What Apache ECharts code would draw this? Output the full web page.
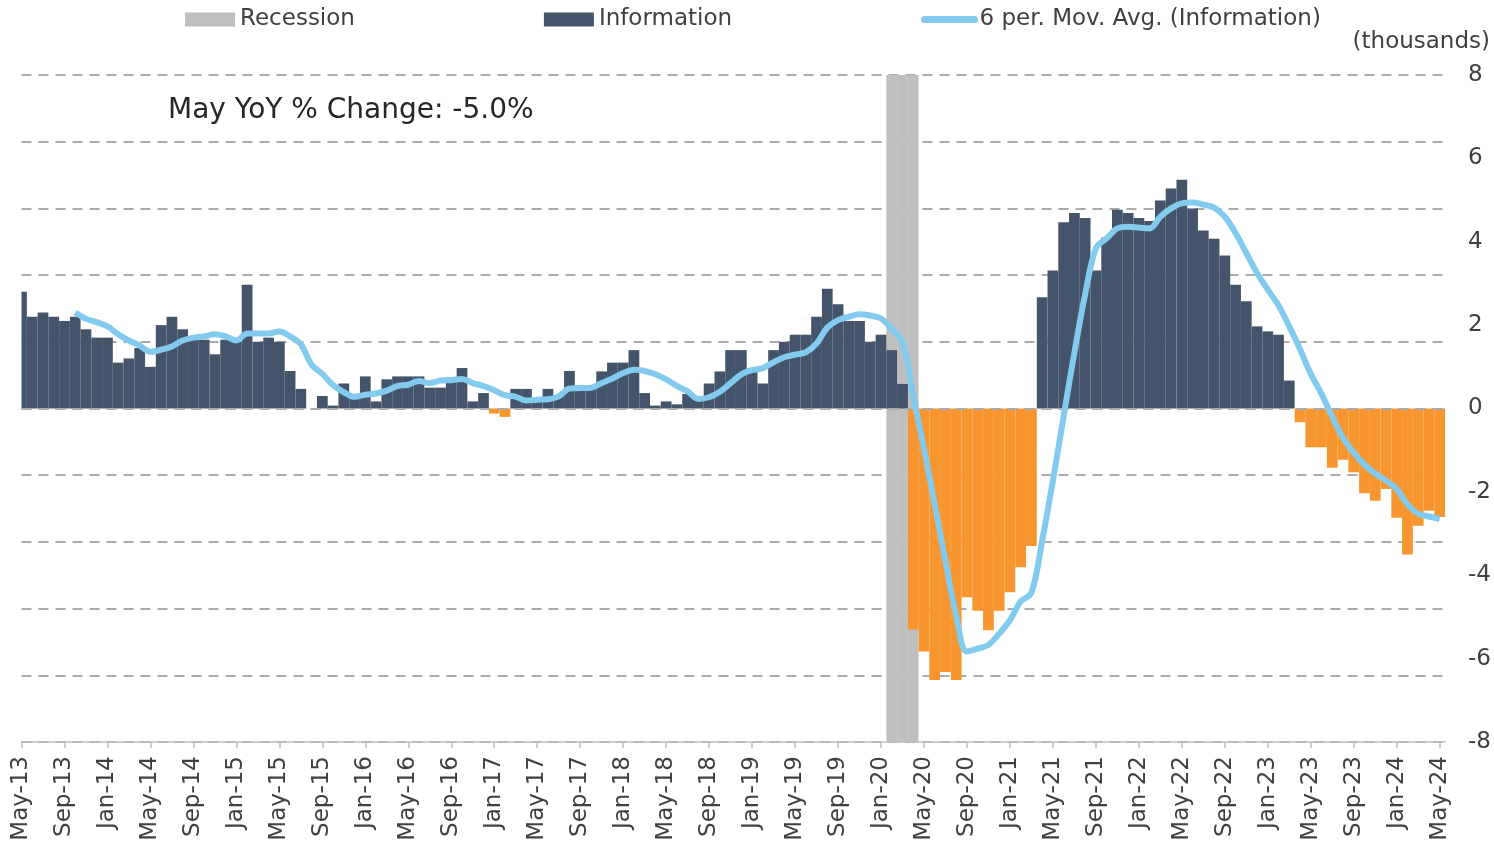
<!DOCTYPE html>
<html>
<head>
<meta charset="utf-8">
<script src="https://cdn.jsdelivr.net/npm/echarts@6/dist/echarts.min.js"></script>
<style>
  html, body { margin: 0; padding: 0; background: #ffffff; }
  #chart { width: 1494px; height: 848px; }
</style>
</head>
<body>
<div id="chart"></div>
<script>
// Monthly categories, May 2013 through May 2024
const months = [
  'May-13','Jun-13','Jul-13','Aug-13','Sep-13','Oct-13','Nov-13','Dec-13',
  'Jan-14','Feb-14','Mar-14','Apr-14','May-14','Jun-14','Jul-14','Aug-14','Sep-14','Oct-14','Nov-14','Dec-14',
  'Jan-15','Feb-15','Mar-15','Apr-15','May-15','Jun-15','Jul-15','Aug-15','Sep-15','Oct-15','Nov-15','Dec-15',
  'Jan-16','Feb-16','Mar-16','Apr-16','May-16','Jun-16','Jul-16','Aug-16','Sep-16','Oct-16','Nov-16','Dec-16',
  'Jan-17','Feb-17','Mar-17','Apr-17','May-17','Jun-17','Jul-17','Aug-17','Sep-17','Oct-17','Nov-17','Dec-17',
  'Jan-18','Feb-18','Mar-18','Apr-18','May-18','Jun-18','Jul-18','Aug-18','Sep-18','Oct-18','Nov-18','Dec-18',
  'Jan-19','Feb-19','Mar-19','Apr-19','May-19','Jun-19','Jul-19','Aug-19','Sep-19','Oct-19','Nov-19','Dec-19',
  'Jan-20','Feb-20','Mar-20','Apr-20','May-20','Jun-20','Jul-20','Aug-20','Sep-20','Oct-20','Nov-20','Dec-20',
  'Jan-21','Feb-21','Mar-21','Apr-21','May-21','Jun-21','Jul-21','Aug-21','Sep-21','Oct-21','Nov-21','Dec-21',
  'Jan-22','Feb-22','Mar-22','Apr-22','May-22','Jun-22','Jul-22','Aug-22','Sep-22','Oct-22','Nov-22','Dec-22',
  'Jan-23','Feb-23','Mar-23','Apr-23','May-23','Jun-23','Jul-23','Aug-23','Sep-23','Oct-23','Nov-23','Dec-23',
  'Jan-24','Feb-24','Mar-24','Apr-24','May-24'
];

// Information employment, year-over-year change (thousands)
const information = [
  2.8, 2.2, 2.3, 2.2, 2.1, 2.2, 1.9, 1.7,
  1.7, 1.1, 1.2, 1.45, 1.0, 2.0, 2.2, 1.9, 1.65, 1.65, 1.3, 1.65,
  1.6, 2.97, 1.6, 1.7, 1.6, 0.9, 0.47, 0, 0.3, 0.07, 0.6, 0.25,
  0.77, 0.17, 0.7, 0.77, 0.77, 0.77, 0.5, 0.5, 0.74, 0.97, 0.17, 0.37,
  -0.12, -0.2, 0.47, 0.47, 0.25, 0.47, 0.3, 0.9, 0.55, 0.55, 0.89, 1.1,
  1.1, 1.4, 0.37, 0.07, 0.17, 0.1, 0.35, 0.3, 0.6, 0.89, 1.4, 1.4,
  0.95, 0.6, 1.4, 1.6, 1.77, 1.77, 2.2, 2.87, 2.5, 2.1, 2.1, 1.6,
  1.77, 1.4, 0.59, -5.3, -5.83, -6.51, -6.32, -6.51, -4.53, -4.85, -5.32, -4.85,
  -4.41, -3.81, -3.3, 2.67, 3.31, 4.47, 4.69, 4.57, 3.31, 4.1, 4.77, 4.69,
  4.57, 4.5, 4.99, 5.28, 5.49, 4.8, 4.27, 4.07, 3.67, 2.97, 2.57, 1.97,
  1.85, 1.77, 0.67, -0.33, -0.93, -0.93, -1.42, -1.23, -1.53, -2.03, -2.21, -1.93,
  -2.62, -3.5, -2.81, -2.45, -2.6
];

// 6-period moving average of the series above (thousands)
const movingAverage = [
  null, null, null, null, null, 2.30, 2.15, 2.07,
  1.97, 1.78, 1.63, 1.51, 1.36, 1.41, 1.49, 1.63, 1.70, 1.73, 1.78, 1.73,
  1.63, 1.80, 1.80, 1.80, 1.85, 1.73, 1.54, 1.05, 0.83, 0.56, 0.39, 0.28,
  0.33, 0.36, 0.43, 0.54, 0.57, 0.66, 0.61, 0.67, 0.68, 0.71, 0.61, 0.54,
  0.44, 0.32, 0.28, 0.19, 0.21, 0.22, 0.29, 0.48, 0.49, 0.50, 0.61, 0.72,
  0.85, 0.93, 0.90, 0.82, 0.70, 0.54, 0.41, 0.23, 0.27, 0.40, 0.61, 0.82,
  0.92, 0.97, 1.11, 1.23, 1.29, 1.35, 1.56, 1.94, 2.12, 2.20, 2.26, 2.23,
  2.16, 1.91, 1.59, 0.30, -0.96, -2.31, -3.66, -4.98, -5.83, -5.76, -5.67, -5.40,
  -5.08, -4.63, -4.42, -3.17, -1.73, -0.18, 1.34, 2.74, 3.84, 4.08, 4.32, 4.36,
  4.34, 4.32, 4.60, 4.80, 4.92, 4.94, 4.89, 4.82, 4.60, 4.21, 3.73, 3.25,
  2.85, 2.47, 1.97, 1.42, 0.83, 0.35, -0.20, -0.70, -1.06, -1.35, -1.56, -1.73,
  -1.93, -2.30, -2.52, -2.59, -2.65
];

// Months inside the recession shading
const recessionMonths = ['Feb-20', 'Mar-20', 'Apr-20'];

// A labelled tick every fourth month
const labelStep = 4;

const headline = 'May YoY % Change: -5.0%';
const unitLabel = '(thousands)';

const FONT = '"DejaVu Sans", Verdana, sans-serif';
const DARK = '#44546A';
const ORANGE = '#F7962E';
const BLUE = '#82CBEF';
const SHADE = '#BFBFBF';
const GRID_DASH = '#ABABAB';
const TEXT = '#404040';

const infoData = information.map((v, i) => [i, v]);
const avgData = movingAverage.map((v, i) => [i, v]).filter(p => p[1] !== null);
const recessionData = months
  .map((m, i) => (recessionMonths.includes(m) ? [i, 1] : null))
  .filter(Boolean);
const tickIndex = months.map((m, i) => i).filter(i => i % labelStep === 0);

// Column centred on its month, one month wide, trimmed to the plot area
function monthColumn(params, api, fromY, toY, fill) {
  const cs = params.coordSys;
  const i = api.value(0);
  const w = api.size([1, 0])[0];
  const x = api.coord([i, 0])[0] - w / 2;
  const rect = echarts.graphic.clipRectByRect(
    { x: x, y: Math.min(fromY, toY), width: w, height: Math.abs(toY - fromY) },
    { x: cs.x, y: cs.y, width: cs.width, height: cs.height }
  );
  return rect && { type: 'rect', shape: rect, style: { fill: fill } };
}

const chart = echarts.init(document.getElementById('chart'), null, { renderer: 'canvas' });

chart.setOption({
  animation: false,
  textStyle: { fontFamily: FONT },
  title: {
    text: headline,
    left: 163,
    top: 92,
    textStyle: { fontFamily: FONT, fontSize: 28, fontWeight: 'normal', color: '#262626' }
  },
  legend: {
    left: 185,
    top: 8,
    padding: 0,
    itemWidth: 50,
    itemHeight: 14,
    itemGap: 189,
    textStyle: { fontFamily: FONT, fontSize: 23, color: TEXT },
    data: [
      { name: 'Recession', icon: 'rect', itemStyle: { color: SHADE } },
      { name: 'Information', icon: 'rect', itemStyle: { color: DARK } },
      {
        name: '6 per. Mov. Avg. (Information)',
        itemStyle: { opacity: 0 },
        lineStyle: { color: BLUE, width: 7, cap: 'round' }
      }
    ]
  },
  graphic: [{
    type: 'text',
    right: 4,
    top: 31,
    style: { text: unitLabel, font: '23px ' + FONT, fill: TEXT }
  }],
  grid: { left: 21.5, right: 46.3, top: 75, bottom: 106 },
  xAxis: {
    type: 'value',
    min: 0,
    max: months.length - 0.5,
    axisLine: { onZero: false, lineStyle: { color: SHADE, width: 1.5 } },
    axisTick: { customValues: tickIndex, length: 6, lineStyle: { color: SHADE, width: 1.5 } },
    axisLabel: {
      customValues: tickIndex,
      formatter: v => months[v],
      rotate: 90, fontSize: 23, color: TEXT, margin: 14, fontFamily: FONT
    },
    splitLine: { show: false }
  },
  yAxis: [
    {
      type: 'value',
      position: 'right',
      min: -8, max: 8, interval: 2,
      axisLabel: { fontSize: 23, color: TEXT, margin: 23, fontFamily: FONT },
      axisLine: { show: false },
      axisTick: { show: false },
      splitLine: { show: false }
    },
    {
      type: 'value',
      position: 'right',
      min: -8, max: 8, interval: 1.6,
      axisLabel: { show: false },
      axisLine: { show: false },
      axisTick: { show: false },
      splitLine: { show: true, lineStyle: { color: GRID_DASH, width: 2, type: [10, 7] } }
    }
  ],
  series: [
    {
      name: 'Recession',
      type: 'custom',
      yAxisIndex: 0,
      data: recessionData,
      encode: { x: 0, y: 1 },
      itemStyle: { color: SHADE },
      silent: true,
      z: 1,
      renderItem: (params, api) => {
        const cs = params.coordSys;
        return monthColumn(params, api, cs.y - 2, cs.y + cs.height + 2, SHADE);
      }
    },
    {
      name: 'Information',
      type: 'custom',
      yAxisIndex: 0,
      data: infoData,
      encode: { x: 0, y: 1 },
      itemStyle: { color: DARK },
      z: 2,
      renderItem: (params, api) => {
        const v = api.value(1);
        const base = api.coord([api.value(0), 0])[1];
        const top = api.coord([api.value(0), v])[1];
        return monthColumn(params, api, base, top, v < 0 ? ORANGE : DARK);
      },
      markLine: {
        silent: true,
        symbol: ['none', 'none'],
        label: { show: false },
        lineStyle: { color: GRID_DASH, width: 2, type: [10, 7] },
        data: [{ yAxis: 0 }]
      }
    },
    {
      name: '6 per. Mov. Avg. (Information)',
      type: 'line',
      yAxisIndex: 0,
      data: avgData,
      smooth: 0.35,
      symbol: 'none',
      lineStyle: { color: BLUE, width: 6 },
      itemStyle: { color: BLUE },
      z: 5
    }
  ]
});
</script>
</body>
</html>
